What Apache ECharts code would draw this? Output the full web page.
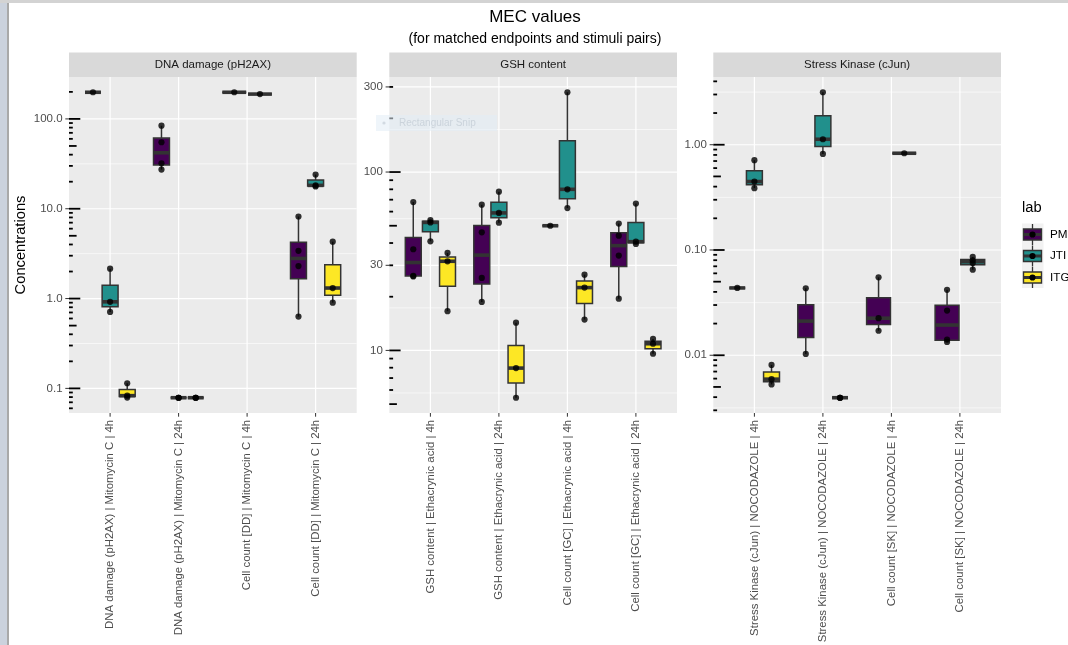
<!DOCTYPE html>
<html><head><meta charset="utf-8">
<script src="https://cdn.jsdelivr.net/npm/echarts@6/dist/echarts.min.js"></script>
<style>html,body{margin:0;padding:0;background:#fff}#c{width:1068px;height:645px}</style>
</head><body><div id="c"></div>
<script>
// ---------------- data ----------------
const labs = ['PM', 'JTI', 'ITG'];
const panelTitles = ['DNA damage (pH2AX)', 'GSH content', 'Stress Kinase (cJun)'];

const cats1 = ['DNA damage (pH2AX) | Mitomycin C | 4h', 'DNA damage (pH2AX) | Mitomycin C | 24h',
               'Cell count [DD] | Mitomycin C | 4h', 'Cell count [DD] | Mitomycin C | 24h'];
const cats2 = ['GSH content | Ethacrynic acid | 4h', 'GSH content | Ethacrynic acid | 24h',
               'Cell count [GC] | Ethacrynic acid | 4h', 'Cell count [GC] | Ethacrynic acid | 24h'];
const cats3 = ['Stress Kinase (cJun) | NOCODAZOLE | 4h', 'Stress Kinase (cJun) | NOCODAZOLE | 24h',
               'Cell count [SK] | NOCODAZOLE | 4h', 'Cell count [SK] | NOCODAZOLE | 24h'];

const ticks1 = [0.1, 1, 10, 100];
const tickLabels1 = ['0.1', '1.0', '10.0', '100.0'];
const ticks2 = [10, 30, 100, 300];
const tickLabels2 = ['10', '30', '100', '300'];
const ticks3 = [0.01, 0.1, 1];
const tickLabels3 = ['0.01', '0.10', '1.00'];

// values per category (null = lab not present)
const p1PM  = [[198], [84, 55, 32, 27.3], [198], [8.2, 3.4, 2.3, 0.63]];
const p1JTI = [[2.15, 0.92, 0.71], [0.0787, 0.0787, 0.0787], [189], [24, 18.2, 17.7]];
const p1ITG = [[0.114, 0.083, 0.079], [0.0787, 0.0787, 0.0787], null, [4.3, 1.31, 0.90]];

const p2PM  = [[67.9, 36.9, 26.2, 26.0], [65.6, 45.9, 25.5, 18.7], [50], [51.4, 44, 34, 19.5]];
const p2JTI = [[53.8, 52.2, 40.9], [77.6, 59, 52], [280, 80, 62.8], [66.6, 40.7, 39.5]];
const p2ITG = [[35.2, 31.6, 16.6], [14.3, 7.96, 5.43], [26.6, 22.5, 14.9], [11.6, 10.9, 9.58]];

const p3PM  = [[0.0436], [0.0433, 0.0103], [0.055, 0.0225, 0.0171], [0.0418, 0.0266, 0.0141, 0.0134]];
const p3JTI = [[0.713, 0.447, 0.387], [3.15, 1.127, 0.818], [0.83], [0.0859, 0.0797, 0.0751, 0.065]];
const p3ITG = [[0.0081, 0.00593, 0.00528], [0.00395, 0.00395, 0.00395], null, null];

// ---------------- styles ----------------
const labColors = ['#440154', '#21908C', '#FDE725'];
const FONT = '"Liberation Sans", Arial, sans-serif';
const GRID_TOP = 77, GRID_H = 336, GRID_W = 287.7;
const panelLefts = [69, 389.3, 713.3];

const panels = [
  {title: panelTitles[0], cats: cats1, ticks: ticks1, tickLabels: tickLabels1, values: [p1PM, p1JTI, p1ITG]},
  {title: panelTitles[1], cats: cats2, ticks: ticks2, tickLabels: tickLabels2, values: [p2PM, p2JTI, p2ITG]},
  {title: panelTitles[2], cats: cats3, ticks: ticks3, tickLabels: tickLabels3, values: [p3PM, p3JTI, p3ITG]}
];

// ---------------- stats helpers ----------------
function quantile(s, p) {
  const h = (s.length - 1) * p, lo = Math.floor(h), hi = Math.ceil(h);
  return s[lo] + (h - lo) * (s[hi] - s[lo]);
}
function boxStats(vals) {
  const s = vals.map(Math.log10).sort((a, b) => a - b);
  const q1 = quantile(s, 0.25), med = quantile(s, 0.5), q3 = quantile(s, 0.75);
  const iqr = q3 - q1;
  const lo = Math.min(...s.filter(v => v >= q1 - 1.5 * iqr - 1e-12));
  const hi = Math.max(...s.filter(v => v <= q3 + 1.5 * iqr + 1e-12));
  return [lo, q1, med, q3, hi].map(v => Math.pow(10, v));
}
function dodge(values, ci) {
  const present = [];
  values.forEach((arr, li) => { if (arr[ci]) present.push(li); });
  const n = present.length, slot = 0.75 / n, res = {};
  present.forEach((li, k) => { res[li] = {x: ci + 1 - 0.375 + slot * (k + 0.5), w: slot * 0.93}; });
  return res;
}

panels.forEach(p => {
  const all = [];
  p.values.forEach(arr => arr.forEach(v => { if (v) all.push(...v); }));
  const l = all.map(Math.log10);
  const lmin = Math.min(...l), lmax = Math.max(...l), pad = (lmax - lmin) * 0.05;
  p.ymin = Math.pow(10, lmin - pad);
  p.ymax = Math.pow(10, lmax + pad);
});

function hline(x1, x2, y, lw, c) { return {type: 'line', shape: {x1, y1: y, x2, y2: y}, style: {stroke: c, lineWidth: lw}}; }
function vline(x, y1, y2, lw, c) { return {type: 'line', shape: {x1: x, y1, x2: x, y2}, style: {stroke: c, lineWidth: lw}}; }

function makeFrame(p) {
  return function (params, api) {
    const cs = params.coordSys;
    const x0 = cs.x, y0 = cs.y, w = cs.width, h = cs.height;
    const ch = [];
    ch.push({type: 'rect', shape: {x: x0, y: y0, width: w, height: h}, style: {fill: '#EBEBEB'}});
    ch.push({type: 'rect', shape: {x: x0, y: y0 - 24.5, width: w, height: 24.5}, style: {fill: '#D9D9D9'}});
    ch.push({type: 'text', x: x0 + w / 2, y: y0 - 12, style: {text: p.title, align: 'center', verticalAlign: 'middle', fontSize: 11.5, fontFamily: FONT, fill: '#1A1A1A'}});
    const lt = p.ticks.map(Math.log10);
    const lmin = Math.log10(p.ymin), lmax = Math.log10(p.ymax);
    const minors = [];
    for (let i = 0; i < lt.length - 1; i++) minors.push((lt[i] + lt[i + 1]) / 2);
    minors.push(lt[0] - (lt[1] - lt[0]) / 2);
    minors.push(lt[lt.length - 1] + (lt[lt.length - 1] - lt[lt.length - 2]) / 2);
    minors.filter(v => v > lmin && v < lmax).forEach(v => {
      const y = api.coord([1, Math.pow(10, v)])[1];
      ch.push(hline(x0, x0 + w, y, 0.6, '#FFFFFF'));
    });
    p.ticks.forEach((t, i) => {
      const y = api.coord([1, t])[1];
      ch.push(hline(x0, x0 + w, y, 1.2, '#FFFFFF'));
      ch.push(hline(x0 - 3.7, x0, y, 1, '#333333'));
      ch.push({type: 'text', x: x0 - 6.4, y: y, style: {text: p.tickLabels[i], align: 'right', verticalAlign: 'middle', fontSize: 11.5, fontFamily: FONT, fill: '#4D4D4D'}});
    });
    p.cats.forEach((c, i) => {
      const x = api.coord([i + 1, p.ticks[0]])[0];
      ch.push(vline(x, y0, y0 + h, 1.2, '#FFFFFF'));
      ch.push(vline(x, y0 + h, y0 + h + 3.7, 1, '#333333'));
      ch.push({type: 'text', x: x, y: y0 + h + 6.8, rotation: Math.PI / 2, style: {text: c, align: 'right', verticalAlign: 'middle', fontSize: 11.4, fontFamily: FONT, fill: '#4D4D4D'}});
    });
    // log ticks (annotation_logticks on the left side)
    for (let e = Math.floor(lmin); e <= Math.ceil(lmax); e++) {
      for (let k = 1; k <= 9; k++) {
        const v = k * Math.pow(10, e), lv = Math.log10(v);
        if (lv < lmin || lv > lmax) continue;
        const y = api.coord([1, v])[1];
        const len = k === 1 ? 11.3 : (k === 5 ? 7.6 : 3.8);
        ch.push(hline(x0, x0 + len, y, 1.8, '#000000'));
      }
    }
    return {type: 'group', children: ch};
  };
}

function renderBox(params, api) {
  const x = api.value(0), w = api.value(6), li = api.value(7);
  const pLo = api.coord([x, api.value(1)]), pQ1 = api.coord([x, api.value(2)]);
  const pMed = api.coord([x, api.value(3)]), pQ3 = api.coord([x, api.value(4)]);
  const pHi = api.coord([x, api.value(5)]);
  const half = api.coord([x + w / 2, api.value(3)])[0] - pMed[0];
  const cx = pMed[0];
  return {type: 'group', children: [
    vline(cx, pHi[1], pQ3[1], 1.5, '#333333'),
    vline(cx, pQ1[1], pLo[1], 1.5, '#333333'),
    {type: 'rect', shape: {x: cx - half, y: pQ3[1], width: 2 * half, height: pQ1[1] - pQ3[1]},
     style: {fill: labColors[li], stroke: '#333333', lineWidth: 1.5}},
    hline(cx - half, cx + half, pMed[1], 3.6, '#333333')
  ]};
}

const series = [];
const grids = [], xAxes = [], yAxes = [];
panels.forEach((p, pi) => {
  grids.push({left: panelLefts[pi], top: GRID_TOP, width: GRID_W, height: GRID_H});
  xAxes.push({type: 'value', gridIndex: pi, min: 0.4, max: 4.6, show: false});
  yAxes.push({type: 'log', gridIndex: pi, min: p.ymin, max: p.ymax, show: false});
  series.push({type: 'custom', xAxisIndex: pi, yAxisIndex: pi, z: 1, silent: true, clip: false,
    data: [[2.5, p.ticks[1]]], encode: {x: 0, y: 1}, renderItem: makeFrame(p)});
  const boxData = [], pts = [];
  p.cats.forEach((c, ci) => {
    const d = dodge(p.values, ci);
    p.values.forEach((arr, li) => {
      if (!arr[ci]) return;
      const st = boxStats(arr[ci]);
      boxData.push([d[li].x, st[0], st[1], st[2], st[3], st[4], d[li].w, li]);
      arr[ci].forEach(v => pts.push([d[li].x, v]));
    });
  });
  series.push({type: 'custom', xAxisIndex: pi, yAxisIndex: pi, z: 2, silent: true,
    data: boxData, encode: {x: 0, y: [1, 2, 3, 4, 5]}, renderItem: renderBox});
  series.push({type: 'scatter', xAxisIndex: pi, yAxisIndex: pi, z: 3, silent: true,
    data: pts, symbol: 'circle', symbolSize: 6.2, itemStyle: {color: '#000000'}});
});

// ---------------- legend + titles (graphic) ----------------
const graphic = [
  {type: 'rect', shape: {x: 0, y: 0, width: 7, height: 645}, style: {fill: '#CBD2DD'}},
  {type: 'rect', shape: {x: 7, y: 0, width: 2, height: 645}, style: {fill: '#A9A9A9'}},
  {type: 'rect', shape: {x: 0, y: 0, width: 1068, height: 3}, style: {fill: '#D3D3D3'}},
  {type: 'text', x: 535, y: 17, style: {text: 'MEC values', align: 'center', verticalAlign: 'middle', fontSize: 17, fontFamily: FONT, fill: '#000'}},
  {type: 'text', x: 535, y: 39, style: {text: '(for matched endpoints and stimuli pairs)', align: 'center', verticalAlign: 'middle', fontSize: 14, fontFamily: FONT, fill: '#000'}},
  {type: 'text', x: 21, y: 245, rotation: Math.PI / 2, style: {text: 'Concentrations', align: 'center', verticalAlign: 'middle', fontSize: 14.7, fontFamily: FONT, fill: '#000'}},
  {type: 'rect', shape: {x: 376, y: 115, width: 121, height: 16}, style: {fill: 'rgba(225,236,245,0.55)'}, z: 100},
  {type: 'circle', shape: {cx: 384, cy: 123, r: 1.6}, style: {fill: 'rgba(190,200,210,0.6)'}, z: 100},
  {type: 'text', x: 399, y: 123, z: 100, style: {text: 'Rectangular Snip', verticalAlign: 'middle', fontSize: 10, fontFamily: FONT, fill: 'rgba(185,195,205,0.6)'}},
  {type: 'text', x: 1022, y: 208, style: {text: 'lab', verticalAlign: 'middle', fontSize: 14.7, fontFamily: FONT, fill: '#000'}},
  {type: 'rect', shape: {x: 1022, y: 223.5, width: 21.5, height: 64.5}, style: {fill: '#F2F2F2'}}
];
labs.forEach((lab, i) => {
  const cy = 234.5 + i * 21.5, cx = 1032.5;
  graphic.push(
    {type: 'line', shape: {x1: cx, y1: cy - 10.5, x2: cx, y2: cy + 10.5}, style: {stroke: '#333333', lineWidth: 1.3}},
    {type: 'rect', shape: {x: 1023.5, y: cy - 5.5, width: 18, height: 11}, style: {fill: labColors[i], stroke: '#333333', lineWidth: 1.4}},
    {type: 'line', shape: {x1: 1023.5, y1: cy, x2: 1041.5, y2: cy}, style: {stroke: '#333333', lineWidth: 3}},
    {type: 'circle', shape: {cx: cx, cy: cy, r: 3.1}, style: {fill: '#000'}},
    {type: 'text', x: 1050, y: cy, style: {text: lab, verticalAlign: 'middle', fontSize: 11.7, fontFamily: FONT, fill: '#000'}}
  );
});

const chart = echarts.init(document.getElementById('c'), null, {renderer: 'canvas'});
chart.setOption({
  animation: false,
  backgroundColor: '#FFFFFF',
  grid: grids, xAxis: xAxes, yAxis: yAxes,
  series: series,
  graphic: graphic
});
</script></body></html>
